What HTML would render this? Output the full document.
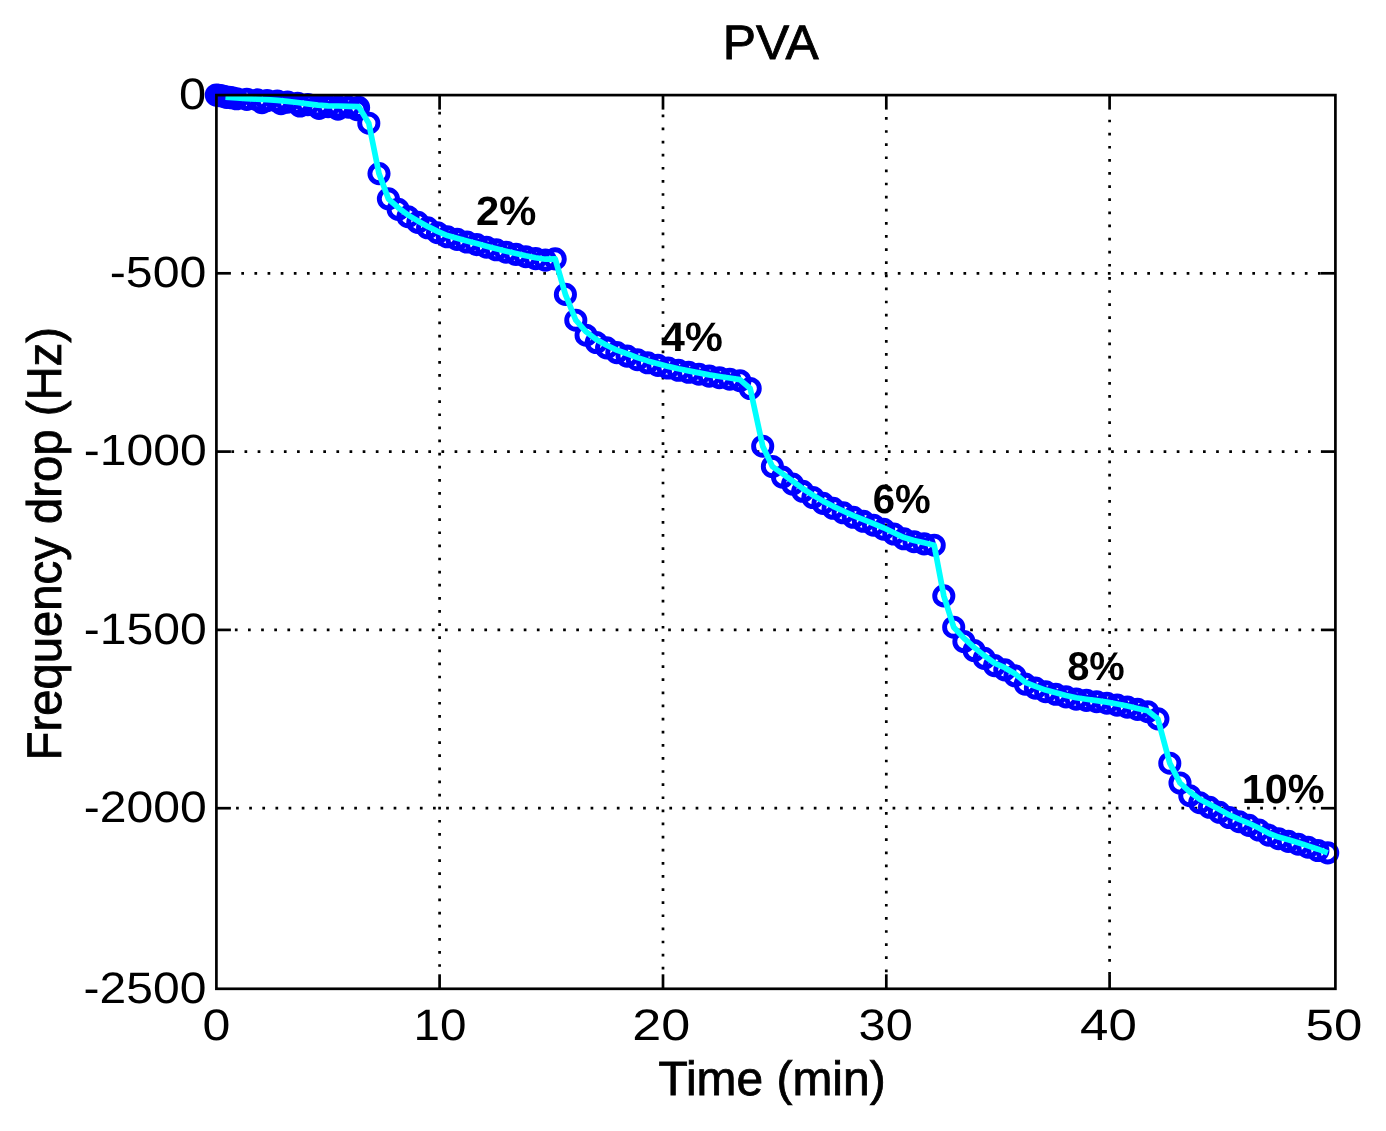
<!DOCTYPE html><html><head><meta charset="utf-8"><title>PVA</title><style>html,body{margin:0;padding:0;background:#fff}svg{display:block}</style></head><body><svg width="1386" height="1131" viewBox="0 0 1386 1131" font-family="'Liberation Sans', Arial, Helvetica, sans-serif" fill="#000" text-rendering="geometricPrecision">
<rect width="1386" height="1131" fill="#fff"/>
<g stroke="#000" stroke-width="2.7" stroke-dasharray="2.7 10.414" fill="none"><line x1="439.6" y1="111.76" x2="439.6" y2="974.8"/><line x1="663.0" y1="114.46" x2="663.0" y2="974.8"/><line x1="886.3" y1="117.06" x2="886.3" y2="974.8"/><line x1="1109.6" y1="119.66" x2="1109.6" y2="974.8"/></g>
<g stroke="#000" stroke-width="2.7" stroke-dasharray="2.7 10.430" fill="none"><line x1="241.31" y1="273.3" x2="1321.4" y2="273.3"/><line x1="231.38" y1="451.6" x2="1321.4" y2="451.6"/><line x1="234.88" y1="629.9" x2="1321.4" y2="629.9"/><line x1="236.08" y1="808.2" x2="1321.4" y2="808.2"/></g>
<g stroke="#0000ff" stroke-width="4.9" fill="none"><circle cx="218.5" cy="95.4" r="9.1"/><circle cx="221.0" cy="95.8" r="9.1"/><circle cx="223.5" cy="96.2" r="9.1"/><circle cx="229.0" cy="97.2" r="9.1"/><circle cx="232.0" cy="97.8" r="9.1"/><circle cx="262.0" cy="102.6" r="9.1"/><circle cx="281.0" cy="103.7" r="9.1"/><circle cx="300.0" cy="106.0" r="9.1"/><circle cx="319.0" cy="108.4" r="9.1"/><circle cx="338.0" cy="109.2" r="9.1"/><circle cx="357.0" cy="109.7" r="9.1"/><circle cx="216.3" cy="95.0" r="9.1"/><circle cx="226.5" cy="97.4" r="9.1"/><circle cx="236.6" cy="98.8" r="9.1"/><circle cx="246.8" cy="99.4" r="9.1"/><circle cx="257.0" cy="99.9" r="9.1"/><circle cx="267.1" cy="100.5" r="9.1"/><circle cx="277.3" cy="101.1" r="9.1"/><circle cx="287.5" cy="102.1" r="9.1"/><circle cx="297.6" cy="103.3" r="9.1"/><circle cx="307.8" cy="104.6" r="9.1"/><circle cx="318.0" cy="105.9" r="9.1"/><circle cx="328.1" cy="106.6" r="9.1"/><circle cx="338.3" cy="106.8" r="9.1"/><circle cx="348.5" cy="107.1" r="9.1"/><circle cx="358.6" cy="107.4" r="9.1"/><circle cx="368.8" cy="123.2" r="9.1"/><circle cx="379.0" cy="173.6" r="9.1"/><circle cx="388.4" cy="198.8" r="9.1"/><circle cx="398.2" cy="209.4" r="9.1"/><circle cx="408.0" cy="216.7" r="9.1"/><circle cx="417.8" cy="222.4" r="9.1"/><circle cx="427.6" cy="227.8" r="9.1"/><circle cx="437.5" cy="232.7" r="9.1"/><circle cx="447.3" cy="236.8" r="9.1"/><circle cx="457.1" cy="239.4" r="9.1"/><circle cx="466.9" cy="242.0" r="9.1"/><circle cx="476.7" cy="244.6" r="9.1"/><circle cx="486.5" cy="247.2" r="9.1"/><circle cx="496.3" cy="249.8" r="9.1"/><circle cx="506.1" cy="252.2" r="9.1"/><circle cx="516.0" cy="254.4" r="9.1"/><circle cx="525.8" cy="256.7" r="9.1"/><circle cx="535.6" cy="258.6" r="9.1"/><circle cx="545.4" cy="260.1" r="9.1"/><circle cx="555.2" cy="258.9" r="9.1"/><circle cx="565.4" cy="294.4" r="9.1"/><circle cx="575.8" cy="320.2" r="9.1"/><circle cx="586.1" cy="335.2" r="9.1"/><circle cx="596.3" cy="342.5" r="9.1"/><circle cx="606.6" cy="347.9" r="9.1"/><circle cx="616.8" cy="352.6" r="9.1"/><circle cx="627.1" cy="356.1" r="9.1"/><circle cx="637.4" cy="359.7" r="9.1"/><circle cx="647.6" cy="362.8" r="9.1"/><circle cx="657.9" cy="365.4" r="9.1"/><circle cx="668.1" cy="368.0" r="9.1"/><circle cx="678.4" cy="370.3" r="9.1"/><circle cx="688.6" cy="372.3" r="9.1"/><circle cx="698.9" cy="374.2" r="9.1"/><circle cx="709.2" cy="376.1" r="9.1"/><circle cx="719.4" cy="377.7" r="9.1"/><circle cx="729.7" cy="379.2" r="9.1"/><circle cx="739.9" cy="380.7" r="9.1"/><circle cx="750.2" cy="388.5" r="9.1"/><circle cx="762.7" cy="446.2" r="9.1"/><circle cx="772.4" cy="466.5" r="9.1"/><circle cx="782.5" cy="477.1" r="9.1"/><circle cx="792.6" cy="484.1" r="9.1"/><circle cx="802.7" cy="491.3" r="9.1"/><circle cx="812.9" cy="497.5" r="9.1"/><circle cx="823.0" cy="503.4" r="9.1"/><circle cx="833.1" cy="508.3" r="9.1"/><circle cx="843.2" cy="512.8" r="9.1"/><circle cx="853.3" cy="517.3" r="9.1"/><circle cx="863.4" cy="521.3" r="9.1"/><circle cx="873.5" cy="525.2" r="9.1"/><circle cx="883.6" cy="529.2" r="9.1"/><circle cx="893.8" cy="534.0" r="9.1"/><circle cx="903.9" cy="538.8" r="9.1"/><circle cx="914.0" cy="541.7" r="9.1"/><circle cx="924.1" cy="543.9" r="9.1"/><circle cx="934.2" cy="545.2" r="9.1"/><circle cx="943.8" cy="595.9" r="9.1"/><circle cx="953.7" cy="627.2" r="9.1"/><circle cx="963.9" cy="641.5" r="9.1"/><circle cx="974.1" cy="650.5" r="9.1"/><circle cx="984.3" cy="658.4" r="9.1"/><circle cx="994.5" cy="665.6" r="9.1"/><circle cx="1004.8" cy="669.9" r="9.1"/><circle cx="1015.0" cy="675.8" r="9.1"/><circle cx="1025.2" cy="684.1" r="9.1"/><circle cx="1035.4" cy="688.1" r="9.1"/><circle cx="1045.6" cy="691.7" r="9.1"/><circle cx="1055.8" cy="694.3" r="9.1"/><circle cx="1066.0" cy="696.9" r="9.1"/><circle cx="1076.2" cy="699.1" r="9.1"/><circle cx="1086.4" cy="700.4" r="9.1"/><circle cx="1096.6" cy="701.7" r="9.1"/><circle cx="1106.9" cy="703.2" r="9.1"/><circle cx="1117.1" cy="705.1" r="9.1"/><circle cx="1127.3" cy="707.1" r="9.1"/><circle cx="1137.5" cy="709.4" r="9.1"/><circle cx="1147.7" cy="711.7" r="9.1"/><circle cx="1157.9" cy="718.9" r="9.1"/><circle cx="1169.8" cy="763.2" r="9.1"/><circle cx="1180.0" cy="783.0" r="9.1"/><circle cx="1189.8" cy="795.7" r="9.1"/><circle cx="1199.7" cy="802.7" r="9.1"/><circle cx="1209.5" cy="807.3" r="9.1"/><circle cx="1219.4" cy="812.3" r="9.1"/><circle cx="1229.2" cy="817.5" r="9.1"/><circle cx="1239.1" cy="821.7" r="9.1"/><circle cx="1248.9" cy="825.4" r="9.1"/><circle cx="1258.8" cy="830.0" r="9.1"/><circle cx="1268.6" cy="835.1" r="9.1"/><circle cx="1278.5" cy="838.7" r="9.1"/><circle cx="1288.3" cy="841.4" r="9.1"/><circle cx="1298.2" cy="844.2" r="9.1"/><circle cx="1308.0" cy="847.2" r="9.1"/><circle cx="1317.9" cy="850.5" r="9.1"/><circle cx="1327.7" cy="852.9" r="9.1"/></g>
<polyline points="225.5,97.2 236.6,98.0 246.8,98.6 257.0,99.1 267.1,99.7 277.3,100.3 287.5,101.3 297.6,102.5 307.8,103.8 318.0,105.1 328.1,105.8 338.3,106.0 348.5,106.3 358.6,106.6 368.8,123.2 379.0,173.6 388.4,198.8 398.2,207.7 408.0,215.1 417.8,220.9 427.6,226.4 437.5,231.4 447.3,235.6 457.1,238.3 466.9,240.9 476.7,243.5 486.5,246.2 496.3,248.8 506.1,251.2 516.0,253.5 525.8,255.8 535.6,257.7 545.4,259.2 555.2,258.9 565.4,294.4 575.8,320.2 586.1,331.8 596.3,339.5 606.6,345.2 616.8,350.1 627.1,353.8 637.4,357.6 647.6,360.9 657.9,363.7 668.1,366.4 678.4,368.8 688.6,370.9 698.9,372.9 709.2,374.9 719.4,376.5 729.7,378.0 739.9,379.6 750.2,388.5 762.7,446.2 772.4,466.5 782.5,473.7 792.6,481.1 802.7,488.5 812.9,495.1 823.0,501.1 833.1,506.3 843.2,511.0 853.3,515.6 863.4,519.6 873.5,523.7 883.6,527.8 893.8,532.7 903.9,537.6 914.0,540.5 924.1,542.8 934.2,545.2 943.8,595.9 953.7,627.2 963.9,638.1 974.1,647.4 984.3,655.6 994.5,663.1 1004.8,667.7 1015.0,673.8 1025.2,682.3 1035.4,686.4 1045.6,690.1 1055.8,692.8 1066.0,695.5 1076.2,697.8 1086.4,699.2 1096.6,700.6 1106.9,702.1 1117.1,704.0 1127.3,706.0 1137.5,708.4 1147.7,710.7 1157.9,718.9 1169.8,763.2 1180.0,783.0 1189.8,791.9 1199.7,799.3 1209.5,804.2 1219.4,809.5 1229.2,814.9 1239.1,819.3 1248.9,823.3 1258.8,828.0 1268.6,833.3 1278.5,837.1 1288.3,839.8 1298.2,842.8 1308.0,845.9 1317.9,849.2 1327.7,852.9" fill="none" stroke="#00ffff" stroke-width="5.7" stroke-linejoin="round"/>
<rect x="216.4" y="95.1" width="1119.0" height="893.7" fill="none" stroke="#000" stroke-width="2.7"/>
<g stroke="#000" stroke-width="2.7"><line x1="439.6" y1="95.1" x2="439.6" y2="109.6"/><line x1="439.6" y1="988.8" x2="439.6" y2="974.3"/><line x1="663.0" y1="95.1" x2="663.0" y2="109.6"/><line x1="663.0" y1="988.8" x2="663.0" y2="974.3"/><line x1="886.3" y1="95.1" x2="886.3" y2="109.6"/><line x1="886.3" y1="988.8" x2="886.3" y2="974.3"/><line x1="1109.6" y1="95.1" x2="1109.6" y2="109.6"/><line x1="1109.6" y1="988.8" x2="1109.6" y2="974.3"/><line x1="216.4" y1="273.3" x2="230.9" y2="273.3"/><line x1="1335.4" y1="273.3" x2="1320.9" y2="273.3"/><line x1="216.4" y1="451.6" x2="230.9" y2="451.6"/><line x1="1335.4" y1="451.6" x2="1320.9" y2="451.6"/><line x1="216.4" y1="629.9" x2="230.9" y2="629.9"/><line x1="1335.4" y1="629.9" x2="1320.9" y2="629.9"/><line x1="216.4" y1="808.2" x2="230.9" y2="808.2"/><line x1="1335.4" y1="808.2" x2="1320.9" y2="808.2"/></g>
<text transform="translate(722.79,58.99) scale(1.0594,1.0286)" font-size="47" stroke="#000" stroke-width="0.8">PVA</text>
<text transform="translate(658.49,1095.31) scale(1.0193,1.0235)" font-size="47" stroke="#000" stroke-width="0.8">Time (min)</text>
<text transform="translate(60.92,760.42) rotate(-90) scale(1.0056,1.0324)" font-size="47" stroke="#000" stroke-width="0.8">Frequency drop (Hz)</text>
<text transform="translate(202.38,1039.69) scale(1.1518,1.0129)" font-size="43.5">0</text>
<text transform="translate(413.54,1039.69) scale(1.0943,1.0129)" font-size="43.5">10</text>
<text transform="translate(632.31,1039.69) scale(1.1978,1.0129)" font-size="43.5">20</text>
<text transform="translate(858.54,1039.69) scale(1.1200,1.0129)" font-size="43.5">30</text>
<text transform="translate(1080.03,1039.69) scale(1.1738,1.0129)" font-size="43.5">40</text>
<text transform="translate(1305.55,1039.69) scale(1.1711,1.0129)" font-size="43.5">50</text>
<text transform="translate(178.93,109.00) scale(1.1229,1.0097)" font-size="43.5">0</text>
<text transform="translate(109.78,287.20) scale(1.1102,1.0032)" font-size="43.5">-500</text>
<text transform="translate(83.69,464.90) scale(1.1051,1.0065)" font-size="43.5">-1000</text>
<text transform="translate(83.69,644.09) scale(1.1051,1.0129)" font-size="43.5">-1500</text>
<text transform="translate(83.69,821.89) scale(1.1051,1.0129)" font-size="43.5">-2000</text>
<text transform="translate(83.59,1002.79) scale(1.1033,1.0129)" font-size="43.5">-2500</text>
<text transform="translate(476.00,224.64) scale(1.0432,1.0230)" font-size="40" font-weight="bold">2%</text>
<text transform="translate(660.96,350.54) scale(1.0720,1.0286)" font-size="40" font-weight="bold">4%</text>
<text transform="translate(872.70,512.59) scale(1.0027,1.0175)" font-size="40" font-weight="bold">6%</text>
<text transform="translate(1067.15,680.30) scale(0.9964,1.0035)" font-size="40" font-weight="bold">8%</text>
<text transform="translate(1241.71,803.49) scale(1.0353,1.0211)" font-size="40" font-weight="bold">10%</text>
</svg></body></html>
